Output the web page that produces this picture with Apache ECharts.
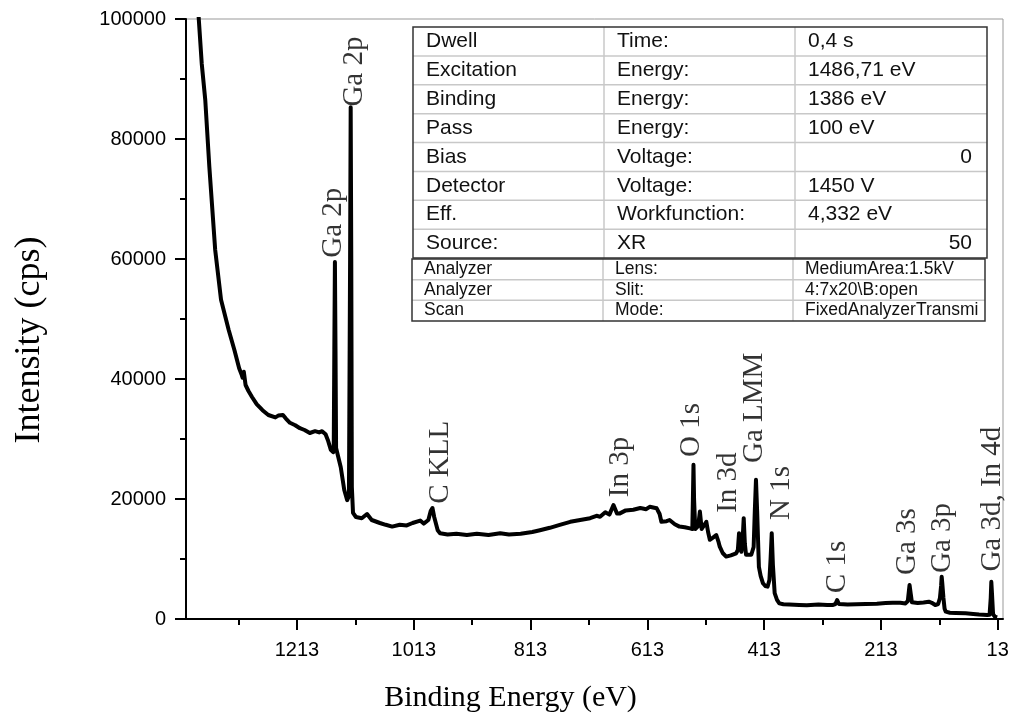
<!DOCTYPE html>
<html>
<head>
<meta charset="utf-8">
<script src="https://cdn.jsdelivr.net/npm/echarts@6/dist/echarts.min.js"></script>
<style>
  html, body { margin: 0; padding: 0; background: #fff; }
  #chart { width: 1012px; height: 722px; }
</style>
</head>
<body>
<div id="chart"></div>
<script>
// survey spectrum, binding energy (eV) and intensity (cps)
const energy = [
  1386, 1381, 1376, 1370, 1363, 1353, 1343, 1330, 1320, 1312, 1308, 1306, 1304, 1301, 1296,
  1290, 1282, 1272, 1262, 1259, 1250, 1245, 1237, 1232, 1225, 1216, 1208, 1200, 1191, 1182,
  1175, 1170, 1164, 1160, 1155, 1151, 1150, 1149, 1148, 1147, 1146, 1143, 1138, 1132, 1127,
  1124, 1122, 1121, 1120, 1119, 1117, 1112, 1102, 1093, 1085, 1071, 1061, 1050, 1037, 1025,
  1015, 1002, 996, 994, 988, 984, 981, 978, 972, 968, 955, 940, 922, 905, 885,
  865, 850, 830, 810, 797, 780, 763, 745, 728, 711, 700, 694, 685, 678, 671,
  665, 660, 650, 637, 625, 615, 609, 597, 592, 589, 580, 575, 566, 558, 549,
  540, 536, 535, 534, 533, 531, 529, 526, 523, 520, 518, 512, 509, 506, 500,
  495, 491, 489, 484, 478, 470, 461, 458, 456, 454, 452, 450, 448, 446, 444,
  435, 431, 429, 427, 425, 422, 419, 415, 411, 407, 404, 402, 400, 398, 395,
  391, 387, 380, 370, 353, 340, 320, 305, 296, 291, 288, 285, 282, 270, 255,
  239, 220, 205, 193, 180, 171, 167, 165, 164, 162, 160, 159, 150, 140, 131,
  126, 120, 115, 112, 110, 109, 108, 106, 104, 102, 95, 85, 68, 55, 45,
  31, 27, 25, 24, 23, 21, 18, 14
];
const counts = [
  108000, 99800, 92500, 86500, 75300, 61500, 53200, 48200, 44800, 41800, 40800, 40200, 41200, 39000, 38000,
  37000, 35800, 34800, 34000, 33700, 33600, 33900, 34000, 33400, 32700, 32300, 31800, 31500, 31000, 31300,
  31100, 31300, 30800, 29800, 28200, 27800, 28600, 45000, 59500, 45000, 28500, 27300, 25300, 21500, 19800,
  20500, 60000, 85300, 60000, 22000, 17700, 17000, 16800, 17500, 16500, 16000, 15700, 15400, 15700, 15600,
  16000, 16400, 15900, 15700, 16500, 18000, 18500, 17000, 14800, 14300, 14100, 14200, 14000, 14200, 14000,
  14300, 14100, 14200, 14500, 14800, 15200, 15700, 16200, 16500, 16800, 17200, 17050, 17800, 17400, 19000,
  17600, 17600, 18100, 18200, 18500, 18300, 18700, 18450, 17500, 16200, 16300, 16500, 15800, 15400, 15300,
  15100, 15000, 20000, 25700, 20000, 15000, 14800, 15500, 17900, 15000, 14800, 16200, 14500, 13200, 13600,
  14000, 12800, 12050, 11000, 10400, 10600, 10950, 11500, 14300, 12000, 11200, 13000, 16800, 12500, 10700,
  10700, 12000, 18000, 23200, 18000, 8700, 7200, 5950, 5500, 5400, 6500, 10000, 14300, 9000, 4300,
  3200, 2600, 2450, 2400, 2330, 2300, 2400, 2350, 2330, 2500, 3170, 2500, 2330, 2400, 2450,
  2500, 2550, 2650, 2720, 2700, 2600, 3000, 4800, 5670, 4200, 2800, 2600, 2650, 2750, 2880,
  2700, 2330, 2500, 3500, 5500, 7050, 6000, 3500, 1700, 1220, 1050, 1000, 950, 850, 750,
  670, 700, 3500, 6200, 4500, 800, 400, 280
];

// peak annotations: name, energy, intensity where the text starts
const peakNames = ['Ga 2p', 'Ga 2p', 'C KLL', 'In 3p', 'O 1s', 'In 3d', 'Ga LMM', 'N 1s', 'C 1s', 'Ga 3s', 'Ga 3p', 'Ga 3d, In 4d'];
const peakEnergy = [1151, 1114, 968, 660, 538, 475, 430, 384, 287, 168, 108, 23];
const peakLabelY = [60200, 85400, 19200, 20300, 27000, 17700, 26000, 16500, 4300, 7330, 7670, 7900];

const xMajorTicks = [1213, 1013, 813, 613, 413, 213, 13];
const xMinorTicks = [1313, 1113, 913, 713, 513, 313, 113];

// acquisition parameter tables
const paramRows = [
  ['Dwell', 'Time:', '0,4 s'],
  ['Excitation', 'Energy:', '1486,71 eV'],
  ['Binding', 'Energy:', '1386 eV'],
  ['Pass', 'Energy:', '100 eV'],
  ['Bias', 'Voltage:', '0'],
  ['Detector', 'Voltage:', '1450 V'],
  ['Eff.', 'Workfunction:', '4,332 eV'],
  ['Source:', 'XR', '50']
];
const analyzerRows = [
  ['Analyzer', 'Lens:', 'MediumArea:1.5kV'],
  ['Analyzer', 'Slit:', '4:7x20\\B:open'],
  ['Scan', 'Mode:', 'FixedAnalyzerTransmi']
];

function buildTable(rows, box) {
  const els = [];
  const rowH = box.h / rows.length;
  els.push({ type: 'rect', shape: { x: box.x, y: box.y, width: box.w, height: box.h },
    style: { fill: '#fff', stroke: 'none' }, z: 10 });
  for (let i = 1; i < rows.length; i++) {
    els.push({ type: 'line', shape: { x1: box.x, y1: box.y + i * rowH, x2: box.x + box.w, y2: box.y + i * rowH },
      style: { stroke: '#c8c8c8', lineWidth: 1.5 }, z: 11 });
  }
  box.cols.forEach(function (cx) {
    els.push({ type: 'line', shape: { x1: cx, y1: box.y, x2: cx, y2: box.y + box.h },
      style: { stroke: '#c8c8c8', lineWidth: 1.5 }, z: 11 });
  });
  els.push({ type: 'rect', shape: { x: box.x, y: box.y, width: box.w, height: box.h },
    style: { fill: 'none', stroke: '#333', lineWidth: 1.5 }, z: 12 });
  const starts = [box.x, box.cols[0], box.cols[1]];
  rows.forEach(function (row, i) {
    row.forEach(function (txt, j) {
      const numeric = /^\d+$/.test(txt);
      els.push({ type: 'text', z: 13,
        x: numeric ? box.x + box.w - box.pad - 2 : starts[j] + box.pad,
        y: box.y + (i + 0.5) * rowH,
        style: { text: txt, fill: '#111', font: box.font + 'px "Liberation Sans", Arial, sans-serif',
          textAlign: numeric ? 'right' : 'left', textVerticalAlign: 'middle' } });
    });
  });
  return els;
}

const plainNum = function (v) { return String(v); };
const serif = '"Liberation Serif", "Times New Roman", serif';
const sans = '"Liberation Sans", Arial, sans-serif';

const chart = echarts.init(document.getElementById('chart'));

const option = {
  animation: false,
  backgroundColor: '#fff',
  grid: { left: 186, right: 9, top: 19, bottom: 103, show: true, borderColor: '#999', borderWidth: 1 },
  xAxis: [
    {
      type: 'value', min: 4, max: 1403, inverse: true, position: 'bottom',
      name: 'Binding Energy (eV)', nameLocation: 'middle', nameGap: 64,
      nameTextStyle: { fontFamily: serif, fontSize: 30, color: '#000', padding: [0, 168, 0, 0] },
      axisLine: { lineStyle: { color: '#000', width: 2 } },
      axisTick: { customValues: xMajorTicks, length: 11, lineStyle: { color: '#000', width: 2 } },
      axisLabel: { customValues: xMajorTicks, formatter: plainNum, fontSize: 20, color: '#000', margin: 21,
        fontFamily: sans },
      splitLine: { show: false }
    },
    {
      type: 'value', min: 4, max: 1403, inverse: true, position: 'bottom',
      axisLine: { show: false },
      axisTick: { customValues: xMinorTicks, length: 6, lineStyle: { color: '#000', width: 2 } },
      axisLabel: { show: false },
      splitLine: { show: false }
    }
  ],
  yAxis: {
    type: 'value', min: 0, max: 100000, interval: 20000,
    name: 'Intensity (cps)', nameLocation: 'middle', nameGap: 138,
    nameTextStyle: { fontFamily: serif, fontSize: 36, color: '#000', padding: [0, 42, 0, 0] },
    axisLine: { show: true, lineStyle: { color: '#000', width: 2 } },
    axisTick: { length: 11, lineStyle: { color: '#000', width: 2 } },
    minorTick: { show: true, splitNumber: 2, length: 6, lineStyle: { color: '#000', width: 2 } },
    axisLabel: { formatter: plainNum, fontSize: 20, color: '#000', margin: 20, fontFamily: sans },
    splitLine: { show: false }
  },
  series: [
    {
      type: 'line',
      data: energy.map(function (e, i) { return [e, counts[i]]; }),
      symbol: 'none',
      clip: true,
      lineStyle: { color: '#000', width: 4, join: 'round' }
    },
    {
      type: 'scatter',
      data: peakEnergy.map(function (e, i) { return [e, peakLabelY[i], peakNames[i]]; }),
      symbolSize: 0,
      silent: true,
      label: {
        show: true,
        position: 'inside',
        rotate: 90,
        align: 'left',
        verticalAlign: 'middle',
        formatter: function (p) { return p.value[2]; },
        fontFamily: serif,
        fontSize: 29,
        color: '#000'
      }
    }
  ],
  graphic: buildTable(paramRows, { x: 413, y: 27, w: 574, h: 231, cols: [604, 795], pad: 13, font: 21 })
    .concat(buildTable(analyzerRows, { x: 412, y: 259, w: 573, h: 62, cols: [603, 793], pad: 12, font: 17.5 }))
};

chart.setOption(option);
</script>
</body>
</html>
